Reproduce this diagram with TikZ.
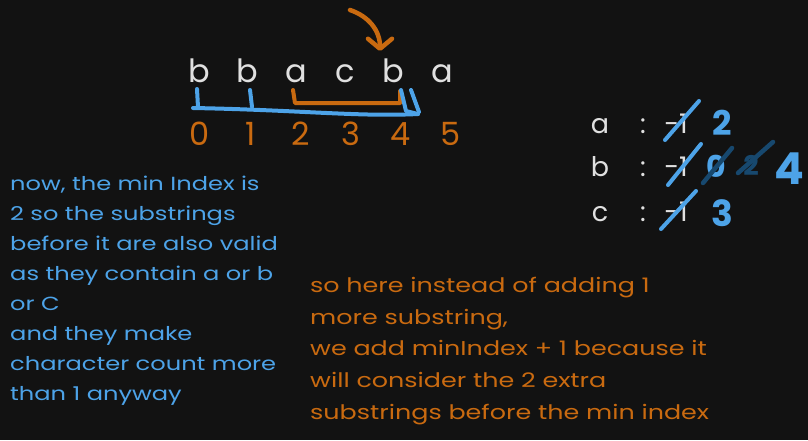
\documentclass[tikz,border=0pt]{standalone}
\usepackage{fontspec}
\setmainfont{Poppins}
\newfontfamily\widehand[FakeStretch=1.27]{Poppins}
\usetikzlibrary{arrows.meta}

\definecolor{bgdark}{HTML}{121212}
\definecolor{chalk}{HTML}{E0E0E0}
\definecolor{skyblue}{HTML}{4DA3E8}
\definecolor{inkblue}{HTML}{17486E}
\definecolor{pumpkin}{HTML}{C96A10}

\begin{document}
\begin{tikzpicture}[x=1pt,y=-1pt,
  chr/.style={text=chalk,font=\fontsize{32}{32}\selectfont,inner sep=0pt,anchor=base},
  idx/.style={text=pumpkin,font=\fontsize{32}{32}\selectfont,inner sep=0pt,anchor=base},
  tab/.style={text=chalk,font=\fontsize{27}{27}\selectfont,inner sep=0pt,anchor=base},
  newval/.style={text=skyblue,inner sep=0pt,anchor=base},
  note/.style={inner sep=0pt,anchor=north west,align=left},
  bluepen/.style={draw=skyblue,line width=4pt,line cap=round,line join=round},
  orangepen/.style={draw=pumpkin,line width=4pt,line cap=round,line join=round},
  strike/.style={draw=skyblue,line width=4pt,line cap=round},
  darkstrike/.style={draw=inkblue,line width=4.5pt,line cap=round}]
  % background
  \fill[bgdark] (0,0) rectangle (808,440);
  % the string and its indices
  \foreach \ch [count=\i from 0] in {b,b,a,c,b,a}
    \node[chr] (s\i) at (199+48.6*\i,82) {\ch};
  \foreach \i in {0,...,5}
    \node[idx] (d\i) at (200+50.2*\i,145) {\i};
  % window from min index (orange) and all substrings (blue)
  \draw[orangepen] (293,90) -- (295,103) -- (400,103) -- (400,91);
  \draw[bluepen] (197,89) -- (198,107);
  \draw[bluepen] (250,90) -- (252,107);
  \draw[bluepen] (193,108) .. controls (300,110) and (360,117) .. (418,114);
  \draw[bluepen] (401,90) -- (406,111) -- (418,114);
  \draw[bluepen] (411,90) -- (419,112);
  % arrow onto the current b
  \coordinate (tail) at (350,10);
  \coordinate (tip) at (380,51);
  \draw[orangepen,line width=4.5pt,-{Straight Barb[round,length=10pt,width=24pt]}]
    (tail) .. controls (368,16) and (380,30) .. (tip);
  % last seen index table
  \foreach \k/\y [count=\r] in {a/133,b/176,c/221}{
    \node[tab] (k\r) at (600,\y) {\k};
    \node[tab] (c\r) at (643,\y) {:};
    \node[tab] (v\r) at (676,\y) {-1};
  }
  \draw[strike] (665,140) -- (699,101);
  \draw[strike] (668,185) -- (701,144);
  \draw[strike] (661,229) -- (696,191);
  \node[newval,font=\fontsize{34}{34}\selectfont\bfseries] (na) at (722,135) {2};
  \node[newval,font=\fontsize{30}{30}\selectfont\bfseries] (nb0) at (716,177) {0};
  \node[newval,text=inkblue,font=\fontsize{27}{27}\selectfont\bfseries] (nb1) at (751,175) {2};
  \draw[darkstrike] (703,183) -- (732,148);
  \draw[darkstrike] (738,173) -- (773,142);
  \node[newval,font=\fontsize{44}{44}\selectfont\bfseries] (nb) at (789,184) {4};
  \node[newval,font=\fontsize{36}{36}\selectfont\bfseries] (nc) at (722,226) {3};
  % notes
  \node[note,text=skyblue,font=\widehand\fontsize{19}{30}\selectfont] (left) at (10,176) {now, the min Index is\\2 so the substrings\\before it are also valid\\as they contain a or b\\or C\\and they make\\character count more\\than 1 anyway};
  \node[note,text=pumpkin,font=\widehand\fontsize{20}{31.7}\selectfont] (right) at (310,277) {so here instead of adding 1\\more substring,\\we add minIndex + 1 because it\\will consider the 2 extra\\substrings before the min index};
\end{tikzpicture}
\end{document}
